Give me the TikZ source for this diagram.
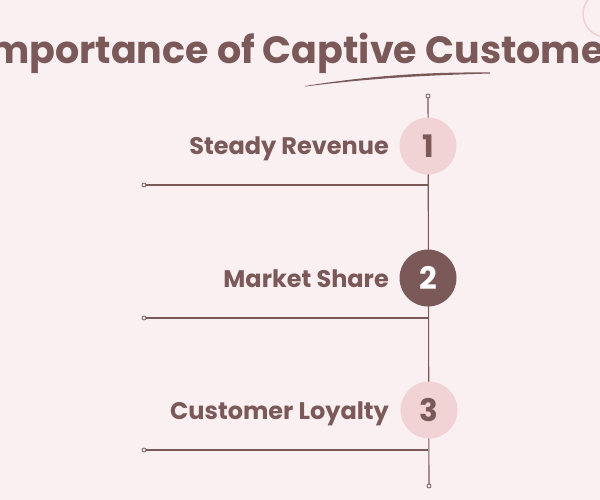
\documentclass[tikz,border=0pt]{standalone}
\usepackage{fontspec}
\setmainfont{Poppins}
\definecolor{bgc}{HTML}{FAF0F2}
\definecolor{txt}{HTML}{7B5959}
\definecolor{lpink}{HTML}{F1D2D5}
\definecolor{arcc}{HTML}{F2CFD2}
\begin{document}
\begin{tikzpicture}[x=1pt,y=-1pt,
  lbl/.style={anchor=base east,font=\bfseries\fontsize{24}{28}\selectfont,text=txt,inner sep=0},
  numlight/.style={circle,fill=lpink,minimum size=57pt,inner sep=0,font=\bfseries\fontsize{31}{34}\selectfont,text=txt},
  numdark/.style={circle,fill=txt,minimum size=57pt,inner sep=0,font=\bfseries\fontsize{31}{34}\selectfont,text=white},
  dot/.style={circle,draw=txt,fill=bgc,line width=0.8pt,minimum size=4pt,inner sep=0},
  conn/.style={draw=txt,line width=1.1pt}]
\fill[bgc] (0,0) rectangle (600,500);
\useasboundingbox (0,0) rectangle (600,500);
\begin{scope}
\clip (0,0) rectangle (600,500);
\draw[arcc,line width=1.5pt] (606,14) circle (23);
\node[anchor=base,font=\bfseries\fontsize{38}{42}\selectfont,text=txt,inner sep=0] (title) at (310,64) {Importance of Captive Customers};
\end{scope}
% swoosh
\fill[txt] (305,86) .. controls (380,74) and (440,72) .. (490,72.5) -- (490,73.5) .. controls (440,75) and (380,77) .. (305,86.5) -- cycle;
% timeline
\coordinate (top) at (428,96);
\coordinate (bot) at (429,486);
\draw[conn] (top) -- (bot);
\node[dot] (topdot) at (top) {};
\node[dot] (botdot) at (bot) {};
\node[numlight] (n1) at (428,146) {1};
\node[numdark] (n2) at (428,278) {2};
\node[numlight] (n3) at (429,410) {3};
\node[lbl] (l1) at (389,155) {Steady Revenue};
\node[lbl] (l2) at (389,287) {Market Share};
\node[lbl] (l3) at (389,419) {Customer Loyalty};
\coordinate (h1) at (428,185);
\coordinate (h2) at (428,318);
\coordinate (h3) at (428,450);
\draw[conn] (h1) -- (144,185) node[dot] (d1) {};
\draw[conn] (h2) -- (144,318) node[dot] (d2) {};
\draw[conn] (h3) -- (144,450) node[dot] (d3) {};
\end{tikzpicture}
\end{document}
